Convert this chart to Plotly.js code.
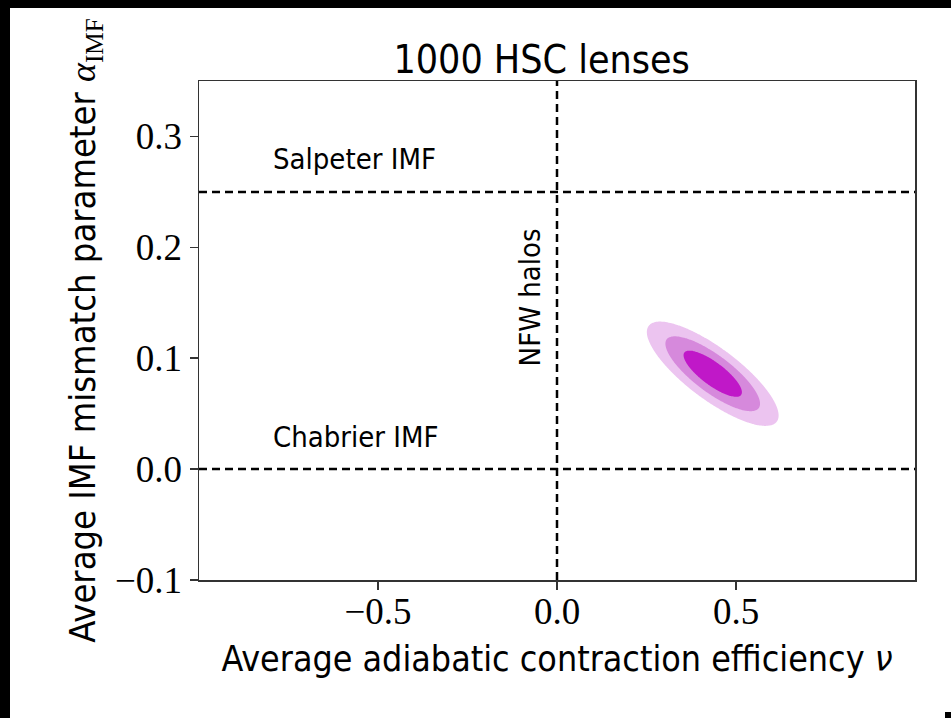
<!DOCTYPE html>
<html><head><meta charset="utf-8">
<script src="https://cdn.plot.ly/plotly-3.0.1.min.js"></script>
<style>
html,body{margin:0;padding:0;background:#fff;}
#plot{position:absolute;left:10px;top:8px;width:941px;height:710px;background:#fff;}
#bt{position:absolute;left:0;top:0;width:951px;height:8px;background:#000;}
#bl{position:absolute;left:0;top:0;width:10px;height:718px;background:#000;}
#corner{position:fixed;right:0;bottom:0;width:6px;height:6px;background:#000;z-index:10}
</style></head><body><div id="plot"></div><div id="bt"></div><div id="bl"></div><div id="corner"></div>
<script>
// Reference lines and their labels
const imfLevels = [0.25, 0.0];
const imfLabels = ['Salpeter IMF', 'Chabrier IMF'];
const imfLabelX = [-0.8, -0.8];
const imfLabelY = [0.280, 0.029];
const nfwX = [0.0];
const nfwLabel = 'NFW halos';
const nfwLabelX = -0.075;
const nfwLabelY = 0.155;
// Posterior
const postMean = [0.435, 0.086];
const postSigma = [0.054, 0.0138];
const postRho = -0.80;
const credLevels = [0.997, 0.95, 0.68];
const credColors = ['#ecc4f0', '#d689dc', '#c018c8'];
// Axes
const xTicks = [-0.5, 0.0, 0.5];
const yTicks = [-0.1, 0.0, 0.1, 0.2, 0.3];
const xRange = [-1, 1];
const yRange = [-0.1, 0.35];

const gridX = [], gridY = [];
for (let i = 0; i <= 200; i++) gridX.push(0.1 + i * 0.0035);
for (let j = 0; j <= 200; j++) gridY.push(0.0 + j * 0.0009);
const z = gridY.map(yv => gridX.map(xv => {
  const dx = (xv - postMean[0]) / postSigma[0];
  const dy = (yv - postMean[1]) / postSigma[1];
  const chi2 = (dx*dx - 2*postRho*dx*dy + dy*dy) / (1 - postRho*postRho);
  return Math.sqrt(chi2);
}));

const traces = credLevels.map((p, k) => ({
  type: 'contour', x: gridX, y: gridY, z: z,
  contours: {type: 'constraint', operation: '>', value: Math.sqrt(-2*Math.log(1-p))},
  fillcolor: credColors[k], line: {width: 0, color: credColors[k]},
  showscale: false, hoverinfo: 'skip', name: (p*100).toFixed(1) + '%'
}));

const dash = {color: '#000', width: 2.5, dash: '8px,5px'};
const shapes = [];
imfLevels.forEach(v => shapes.push({type: 'line', xref: 'paper', x0: 0, x1: 1, yref: 'y', y0: v, y1: v, line: dash}));
nfwX.forEach(v => shapes.push({type: 'line', xref: 'x', x0: v, x1: v, yref: 'paper', y0: 0, y1: 1, line: dash}));

const sans = 'DejaVu Sans Condensed, DejaVu Sans, sans-serif';
const serif = 'Liberation Serif, serif';
const annotations = imfLabels.map((t, i) => ({
  x: imfLabelX[i], y: imfLabelY[i], xref: 'x', yref: 'y', text: t, showarrow: false,
  xanchor: 'left', yanchor: 'middle', font: {family: sans, size: 29, color: '#000'}
}));
annotations.push({x: nfwLabelX, y: nfwLabelY, xref: 'x', yref: 'y', text: nfwLabel, showarrow: false,
  textangle: -90, xanchor: 'center', yanchor: 'middle', font: {family: sans, size: 29, color: '#000'}});

const axisCommon = {
  showgrid: false, zeroline: false, showline: true, mirror: true, linecolor: '#333', linewidth: 1.5,
  ticks: 'outside', ticklen: 8, tickwidth: 1.5, tickcolor: '#333', tickformat: '.1f',
  tickfont: {family: serif, size: 37, color: '#000'}, automargin: false
};

const layout = {
  width: 941, height: 710,
  paper_bgcolor: '#fff', plot_bgcolor: '#fff',
  margin: {l: 189, r: 36, t: 73, b: 138},
  showlegend: false,
  title: {text: '1000 HSC lenses', font: {family: sans, size: 39, color: '#000'},
    x: 0.565, xref: 'container', xanchor: 'center', y: 0.927, yref: 'container', yanchor: 'middle'},
  xaxis: Object.assign({}, axisCommon, {range: xRange, tickvals: xTicks, ticklabelstandoff: -10,
    title: {text: 'Average adiabatic contraction efficiency <i>ν</i>', font: {family: sans, size: 35.5, color: '#000'}, standoff: 15}}),
  yaxis: Object.assign({}, axisCommon, {range: yRange, tickvals: yTicks,
    title: {text: 'Average IMF mismatch parameter <span style="font-family:Liberation Serif"><i>α</i><sub>IMF</sub></span>', font: {family: sans, size: 36, color: '#000'}, standoff: 8}}),
  shapes: shapes,
  annotations: annotations
};

Plotly.newPlot('plot', traces, layout, {staticPlot: true});
</script></body></html>
